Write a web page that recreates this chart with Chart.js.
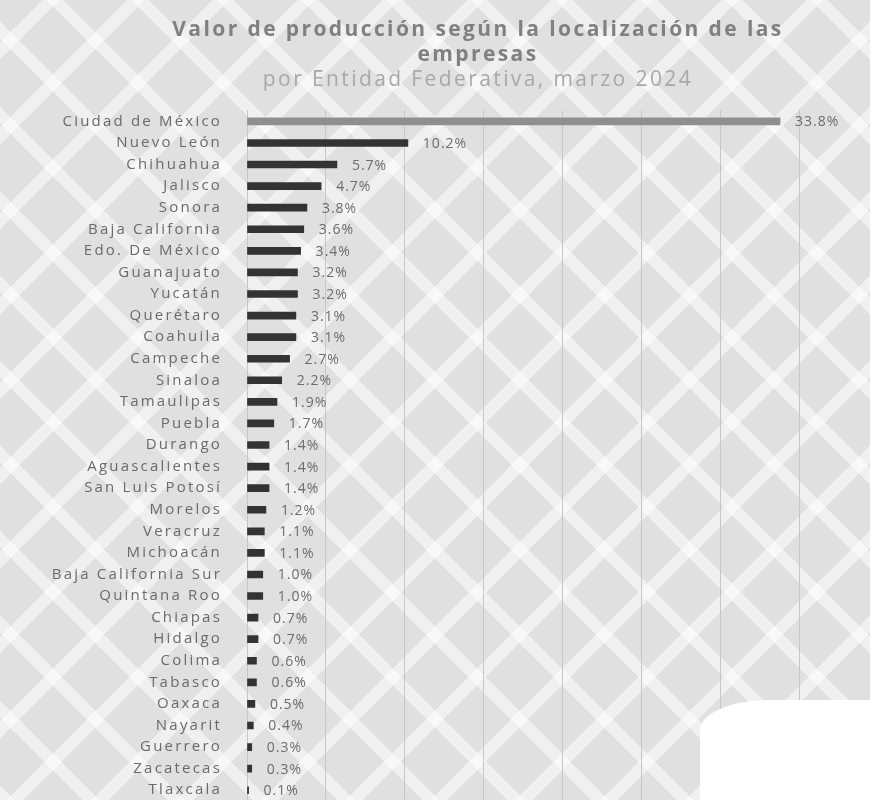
<!DOCTYPE html>
<html>
  <head>
    <title>Valor de producción por Entidad Federativa</title>
    <style>
      body {
        margin: 0;
        padding: 0;
        overflow: hidden;
        background-color: #e0e0e0;
        background-image:
          repeating-linear-gradient(45deg, rgba(255,255,255,0.5) 0 12px, transparent 12px 60px),
          repeating-linear-gradient(-45deg, rgba(255,255,255,0.5) 0 12px, transparent 12px 60px);
      }

      #chart-container {
        position: relative;
        width: 956px;
        height: 802px;
      }

      #blank {
        position: absolute;
        left: 700px;
        top: 700px;
        width: 200px;
        height: 140px;
        background: #fff;
        border-top-left-radius: 70px 30px;
      }
    </style>
  </head>
  <body>
    <div id="chart-container">
      <canvas id="produccion-chart"></canvas>
    </div>
    <div id="blank"></div>

    <script src="https://cdn.jsdelivr.net/npm/chart.js"></script>
    <script>
      // Participación en el valor de producción (%), marzo 2024
      const entidades = [
        "Ciudad de México", "Nuevo León", "Chihuahua", "Jalisco", "Sonora",
        "Baja California", "Edo. De México", "Guanajuato", "Yucatán", "Querétaro",
        "Coahuila", "Campeche", "Sinaloa", "Tamaulipas", "Puebla", "Durango",
        "Aguascalientes", "San Luis Potosí", "Morelos", "Veracruz", "Michoacán",
        "Baja California Sur", "Quintana Roo", "Chiapas", "Hidalgo", "Colima",
        "Tabasco", "Oaxaca", "Nayarit", "Guerrero", "Zacatecas", "Tlaxcala",
      ];
      const porcentajes = [
        33.8, 10.2, 5.7, 4.7, 3.8, 3.6, 3.4, 3.2, 3.2, 3.1, 3.1, 2.7, 2.2, 1.9,
        1.7, 1.4, 1.4, 1.4, 1.2, 1.1, 1.1, 1.0, 1.0, 0.7, 0.7, 0.6, 0.6, 0.5,
        0.4, 0.3, 0.3, 0.1,
      ];
      const tituloLineas = [
        "Valor de producción según la localización de las",
        "empresas",
      ];
      const subtitulo = "por Entidad Federativa, marzo 2024";

      // the scan is stretched sideways, so text gets some letter spacing
      const spacing = {
        id: "spacing",
        beforeDraw(chart) {
          chart.ctx.letterSpacing = "2.4px"; // title + subtitle
        },
        afterDatasetsDraw(chart) {
          const ctx = chart.ctx;
          const meta = chart.getDatasetMeta(0);
          ctx.save();
          ctx.letterSpacing = "1px";
          ctx.font = "14px 'Open Sans'";
          ctx.fillStyle = "#6c6c6c";
          ctx.textBaseline = "middle";
          meta.data.forEach((bar, i) => {
            ctx.fillText(porcentajes[i].toFixed(1) + "%", bar.x + 15, bar.y + 1);
          });
          ctx.restore();
          ctx.letterSpacing = "2.2px"; // y tick labels (z: 1, drawn next)
        },
        afterDraw(chart) {
          chart.ctx.letterSpacing = "0px";
        },
      };

      const ctx = document.getElementById("produccion-chart").getContext("2d");

      const chart = new Chart(ctx, {
        type: "bar",
        data: {
          labels: entidades,
          datasets: [
            {
              data: porcentajes,
              backgroundColor: porcentajes.map((v, i) => (i === 0 ? "#8f8f8f" : "#333333")),
              barThickness: 7,
            },
          ],
        },
        options: {
          indexAxis: "y",
          responsive: true,
          maintainAspectRatio: false,
          animation: false,
          layout: {
            padding: { left: 0, right: 0, top: 0, bottom: 1 },
          },
          plugins: {
            legend: { display: false },
            tooltip: { enabled: false },
            title: {
              display: true,
              text: tituloLineas,
              color: "#808080",
              font: { family: "'Open Sans'", size: 21, weight: "bold", lineHeight: 1.2 },
              padding: { top: 17, bottom: 0 },
            },
            subtitle: {
              display: true,
              text: subtitulo,
              color: "#a8a8a8",
              font: { family: "'Open Sans'", size: 21, lineHeight: 1.2 },
              padding: { top: 0, bottom: 18 },
            },
          },
          scales: {
            x: {
              min: 0,
              max: 35,
              afterFit(scale) {
                scale.height = 0;
              },
              ticks: { display: false, stepSize: 5 },
              grid: { color: "#c6c6c6", drawTicks: false },
              border: { display: false },
            },
            y: {
              afterFit(scale) {
                scale.width = 247;
                // tick padding would otherwise push the plot bottom up
                scale.paddingTop = 0;
                scale.paddingBottom = 0;
              },
              ticks: {
                color: "#6a6a6a",
                font: { family: "'Open Sans'", size: 15 },
                padding: 25,
                autoSkip: false,
                z: 1,
              },
              grid: { display: false, drawTicks: false },
              border: { display: true, color: "#c6c6c6" },
            },
            // empty box on the right so the title centres like the original
            margen: {
              type: "linear",
              position: "right",
              afterFit(scale) {
                scale.width = 157;
              },
              ticks: { display: false },
              grid: { display: false, drawTicks: false },
              border: { display: false },
            },
          },
        },
        plugins: [spacing],
      });
    </script>
  </body>
</html>
